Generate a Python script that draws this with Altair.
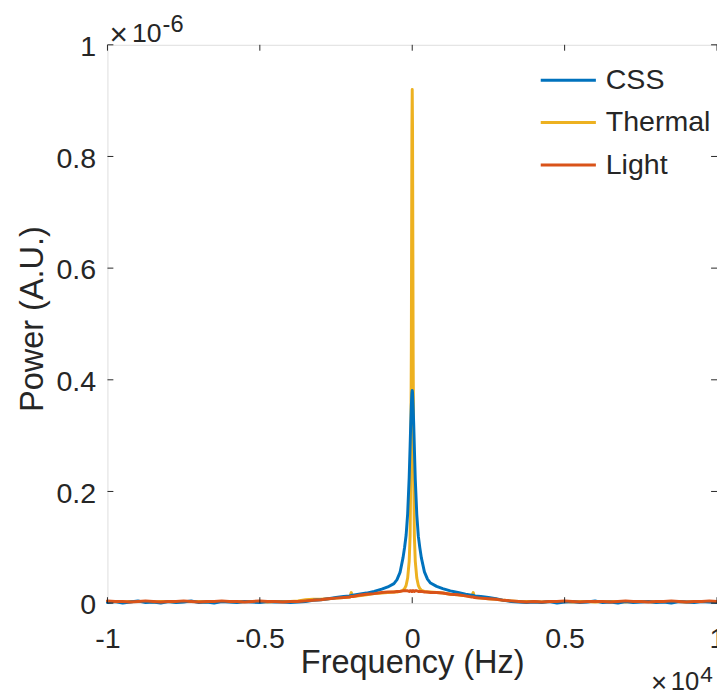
import altair as alt
import pandas as pd

# Frequency grid (Hz)
freq_left = [-10000, -9750, -9500, -9250, -9000, -8750, -8500, -8250, -8000, -7750,
             -7500, -7250, -7000, -6750, -6500, -6250, -6000, -5750, -5500, -5250,
             -5000, -4750, -4500, -4250, -4000,
             -3750, -3500, -3250, -3000, -2750, -2500, -2250,
             -2050, -2000, -1950,
             -1750, -1500, -1250, -1000,
             -800, -600, -500, -400, -300, -250, -200, -150, -100, -70, -50, -30, -15, -10]
freq_center = [0]
freq_right = [10, 15, 30, 50, 70, 100, 150, 200, 250, 300, 400, 500, 600, 800,
              1000, 1250, 1500, 1750,
              1950, 2000, 2050,
              2250, 2500, 2750, 3000, 3250, 3500, 3750,
              4000, 4250, 4500, 4750, 5000, 5250, 5500, 5750, 6000, 6250,
              6500, 6750, 7000, 7250, 7500, 7750, 8000, 8250, 8500, 8750,
              9000, 9250, 9500, 9750, 10000]

# Power values in units of 1e-6 (A.U.)
css_left = [0.001, 0.003, 0.000, 0.002, 0.004, 0.001, 0.002, 0.000, 0.003, 0.001,
            0.002, 0.004, 0.001, 0.002, 0.000, 0.003, 0.002, 0.001, 0.003, 0.002,
            0.001, 0.003, 0.002, 0.002, 0.001,
            0.002, 0.003, 0.005, 0.006, 0.008, 0.010, 0.012,
            0.013, 0.014, 0.014,
            0.016, 0.018, 0.021, 0.025,
            0.029, 0.035, 0.042, 0.055, 0.082, 0.100, 0.122, 0.160, 0.225, 0.280, 0.320, 0.352, 0.372, 0.377]
css_center = [0.381]
css_right = [0.377, 0.371, 0.351, 0.318, 0.278, 0.222, 0.158, 0.120, 0.099, 0.081, 0.056, 0.043, 0.036, 0.030,
             0.026, 0.022, 0.019, 0.016,
             0.014, 0.014, 0.013,
             0.012, 0.010, 0.008, 0.005, 0.003, 0.002, 0.001,
             0.002, 0.001, 0.003, 0.000, 0.002, 0.003, 0.001, 0.002, 0.004, 0.001,
             0.002, 0.000, 0.003, 0.001, 0.002, 0.003, 0.001, 0.002, 0.000, 0.003,
             0.002, 0.001, 0.003, 0.002, 0.001]

thermal_left = [0.003, 0.003, 0.002, 0.003, 0.003, 0.003, 0.002, 0.003, 0.003, 0.002,
                0.003, 0.003, 0.003, 0.002, 0.003, 0.003, 0.003, 0.002, 0.003, 0.003,
                0.003, 0.002, 0.003, 0.003, 0.003,
                0.004, 0.006, 0.007, 0.007, 0.008, 0.009, 0.010,
                0.011, 0.019, 0.012,
                0.013, 0.015, 0.017, 0.018,
                0.019, 0.020, 0.020, 0.021, 0.023, 0.026, 0.032, 0.045, 0.075, 0.120, 0.220, 0.450, 0.750, 0.850]
thermal_center = [0.920]
thermal_right = [0.850, 0.750, 0.450, 0.220, 0.120, 0.075, 0.045, 0.032, 0.026, 0.023, 0.021, 0.020, 0.020, 0.019,
                 0.018, 0.016, 0.015, 0.013,
                 0.012, 0.019, 0.010,
                 0.009, 0.008, 0.007, 0.005, 0.004, 0.003, 0.003,
                 0.003, 0.002, 0.003, 0.003, 0.003, 0.002, 0.003, 0.003, 0.002, 0.003,
                 0.003, 0.003, 0.002, 0.003, 0.003, 0.003, 0.002, 0.003, 0.003, 0.003,
                 0.002, 0.003, 0.003, 0.003, 0.003]

light_left = [0.004, 0.003, 0.003, 0.002, 0.003, 0.004, 0.003, 0.002, 0.003, 0.003,
              0.004, 0.003, 0.002, 0.003, 0.003, 0.004, 0.003, 0.003, 0.002, 0.003,
              0.004, 0.003, 0.003, 0.002, 0.003,
              0.003, 0.004, 0.005, 0.006, 0.008, 0.009, 0.010,
              0.011, 0.012, 0.012,
              0.014, 0.016, 0.017, 0.019,
              0.020, 0.020, 0.021, 0.021, 0.022, 0.022, 0.022, 0.022, 0.021, 0.022, 0.022, 0.021, 0.022, 0.022]
light_center = [0.022]
light_right = [0.022, 0.021, 0.022, 0.022, 0.021, 0.022, 0.022, 0.021, 0.021, 0.021, 0.020, 0.020, 0.019, 0.019,
               0.018, 0.016, 0.015, 0.013,
               0.011, 0.011, 0.010,
               0.009, 0.008, 0.007, 0.005, 0.004, 0.003, 0.002,
               0.003, 0.002, 0.003, 0.003, 0.004, 0.003, 0.002, 0.003, 0.003, 0.003,
               0.002, 0.003, 0.004, 0.003, 0.003, 0.002, 0.003, 0.003, 0.004, 0.003,
               0.002, 0.003, 0.003, 0.004, 0.003]

series_names = ["CSS", "Thermal", "Light"]
series_colors = ["#0072BD", "#EDB120", "#D95319"]

x_ticks = [-10000, -5000, 0, 5000, 10000]
y_ticks = [0, 0.2, 0.4, 0.6, 0.8, 1]

freq = freq_left + freq_center + freq_right
css = css_left + css_center + css_right
thermal = thermal_left + thermal_center + thermal_right
light = light_left + light_center + light_right

W, H = 619, 567
TXT = "#262626"
FONT = "Liberation Sans"
TICK_FS = 29
TITLE_FS = 33

xs = alt.Scale(domain=[-10000, 10000], nice=False, zero=False)
ys = alt.Scale(domain=[0, 1], nice=False, zero=False)

xaxis = alt.Axis(values=x_ticks, labelExpr="'' + (datum.value / 10000)", ticks=False, domain=False,
                 grid=False, labelFont=FONT, labelFontSize=TICK_FS, labelColor=TXT, labelPadding=22,
                 labelFlush=False, labelOverlap=False,
                 titleFont=FONT, titleFontSize=TITLE_FS, titleColor=TXT, titleFontWeight="normal",
                 titleX=W / 2, titleY=70, titleBaseline="alphabetic", titleAlign="center")
yaxis = alt.Axis(values=y_ticks, labelExpr="'' + datum.value", ticks=False, domain=False,
                 grid=False, labelFont=FONT, labelFontSize=TICK_FS, labelColor=TXT, labelPadding=12,
                 labelFlush=False, labelOverlap=False, labelBaseline="middle", labelOffset=2,
                 titleFont=FONT, titleFontSize=TITLE_FS, titleColor=TXT, titleFontWeight="normal",
                 titleX=-66, titleY=278, titleAngle=270, titleBaseline="alphabetic", titleAlign="center")


def xenc():
    return alt.X("f:Q", scale=xs, axis=xaxis, title="Frequency (Hz)")


def yenc():
    return alt.Y("p:Q", scale=ys, axis=yaxis, title="Power (A.U.)")


def line_layer(vals, color):
    df = pd.DataFrame({"f": freq, "p": vals})
    return alt.Chart(df).mark_line(color=color, strokeWidth=3, strokeJoin="round",
                                   strokeCap="round").encode(x=xenc(), y=yenc())


lines = [line_layer(thermal, series_colors[1]),
         line_layer(css, series_colors[0]),
         line_layer(light, series_colors[2])]

xt = pd.DataFrame({"f": x_ticks})
yt = pd.DataFrame({"p": y_ticks})
tick_style = dict(color=TXT, strokeWidth=1)
ticks = [
    alt.Chart(xt).mark_rule(**tick_style).encode(x=xenc(), y=alt.value(H), y2=alt.value(H - 6)),
    alt.Chart(xt).mark_rule(**tick_style).encode(x=xenc(), y=alt.value(0), y2=alt.value(6)),
    alt.Chart(yt).mark_rule(**tick_style).encode(y=yenc(), x=alt.value(0), x2=alt.value(6)),
    alt.Chart(yt).mark_rule(**tick_style).encode(y=yenc(), x=alt.value(W), x2=alt.value(W - 6)),
]

one = alt.Data(values=[{}])


def text_at(txt, x, y, size=TICK_FS, color=TXT, align="left"):
    return alt.Chart(one).mark_text(font=FONT, fontSize=size, color=color, align=align,
                                    baseline="alphabetic").encode(
        x=alt.value(x), y=alt.value(y), text=alt.value(txt))


annotations = [
    text_at("×", 2, 0, size=32),
    text_at("10", 25, -3, size=27),
    text_at("-6", 56, -13, size=24),
    text_at("×", 552, 657, size=28),
    text_at("10", 572, 655, size=26),
    text_at("4", 602, 647, size=23),
]

legend_y = [36, 79, 122]
legend_layers = []
for name, col, ly in zip(series_names, series_colors, legend_y):
    legend_layers.append(
        alt.Chart(one).mark_rule(color=col, strokeWidth=3).encode(
            x=alt.value(440), x2=alt.value(496), y=alt.value(ly)))
    legend_layers.append(text_at(name, 506, ly + 9))

chart = alt.layer(*lines, *ticks, *annotations, *legend_layers).properties(
    width=W, height=H,
    autosize=alt.AutoSizeParams(type="none"),
    padding={"left": 101, "top": 32, "right": 0, "bottom": 93},
).configure_view(stroke=TXT, strokeWidth=1).configure(background="white")

chart.save("out.html", embed_options={"renderer": "svg", "actions": False})
